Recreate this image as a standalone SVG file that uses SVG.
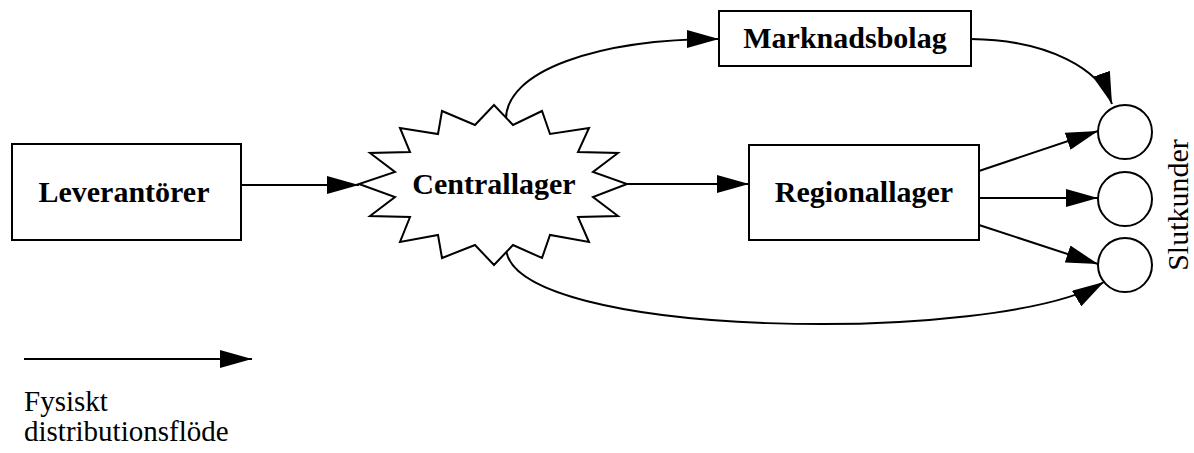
<svg xmlns="http://www.w3.org/2000/svg" width="1194" height="453" viewBox="0 0 1194 453">
<style>
.box{fill:#fff;stroke:#000;stroke-width:2}
.ln{fill:none;stroke:#000;stroke-width:2}
.b{font-family:"Liberation Serif","Times New Roman",serif;font-weight:bold;font-size:30px;text-anchor:middle;fill:#000}
.r{font-family:"Liberation Serif","Times New Roman",serif;font-size:30px;fill:#000}
.lg{font-family:"Liberation Serif","Times New Roman",serif;font-size:29px;fill:#000}
</style>
<defs>
<marker id="ah" markerUnits="userSpaceOnUse" markerWidth="32" markerHeight="18" refX="32" refY="9" orient="auto" viewBox="0 0 32 18">
<path d="M0,0 L32,9 L0,18 z" fill="#000"/>
</marker>
</defs>
<rect width="1194" height="453" fill="#fff"/>
<g id="connectors">
<line class="ln" x1="241" y1="185" x2="359" y2="185" marker-end="url(#ah)"/>
<line class="ln" x1="627" y1="184" x2="749" y2="184" marker-end="url(#ah)"/>
<path class="ln" d="M506,122 C503,70 600,39 719,39" marker-end="url(#ah)"/>
<path class="ln" d="M971,39 C1050,40 1100,70 1112,104" marker-end="url(#ah)"/>
<line class="ln" x1="979" y1="171" x2="1098" y2="131" marker-end="url(#ah)"/>
<line class="ln" x1="979" y1="198" x2="1098" y2="198" marker-end="url(#ah)"/>
<line class="ln" x1="979" y1="225" x2="1098" y2="264" marker-end="url(#ah)"/>
<path class="ln" d="M506,248 C510,340 1000,345 1104,282" marker-end="url(#ah)"/>
</g>
<g id="leverantorer">
<rect class="box" x="12" y="144" width="229" height="96"/>
<text class="b" x="124" y="202">Leverantörer</text>
</g>
<g id="centrallager">
<polygon class="box" points="494,105 513,125 542,111 550,134 589,128 578,152 618,153 593,172 627,184 593,197 618,216 578,217 589,242 550,235 542,258 513,245 494,265 475,245 442,258 438,235 400,242 410,217 370,216 395,197 359,184 395,172 370,153 410,152 400,128 438,134 442,111 475,125"/>
<text class="b" x="494" y="194">Centrallager</text>
</g>
<g id="marknadsbolag">
<rect class="box" x="719" y="11" width="252" height="55"/>
<text class="b" x="845" y="48">Marknadsbolag</text>
</g>
<g id="regionallager">
<rect class="box" x="749" y="145" width="230" height="95"/>
<text class="b" x="864" y="202">Regionallager</text>
</g>
<g id="slutkunder">
<circle class="box" cx="1125" cy="132" r="27"/>
<circle class="box" cx="1125" cy="199" r="27"/>
<circle class="box" cx="1125" cy="265" r="27"/>
<text class="r" text-anchor="middle" transform="translate(1188,205) rotate(-90)">Slutkunder</text>
</g>
<g id="legend">
<line class="ln" x1="24" y1="359" x2="252" y2="359" marker-end="url(#ah)"/>
<text class="lg" x="24" y="411">Fysiskt</text>
<text class="lg" x="24" y="441">distributionsflöde</text>
</g>
</svg>
